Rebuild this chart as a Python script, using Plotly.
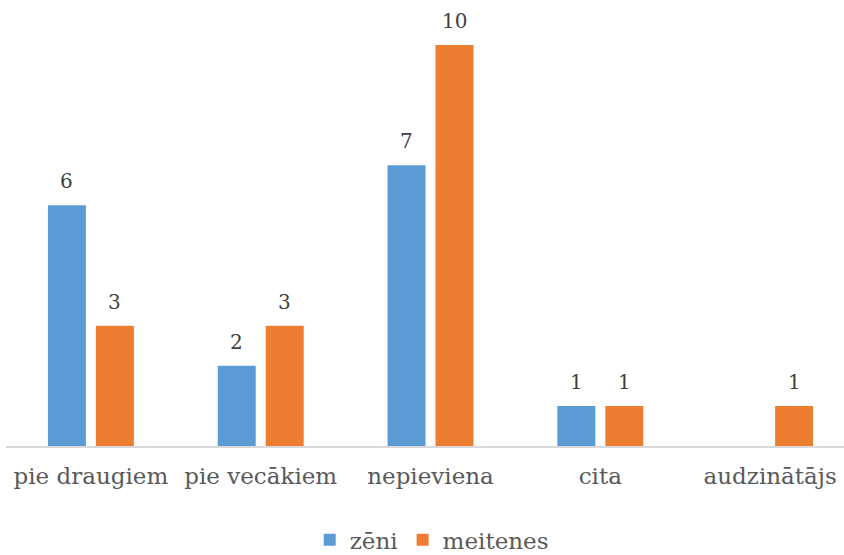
import plotly.graph_objects as go

categories = ["pie draugiem", "pie vecākiem", "nepieviena", "cita", "audzinātājs"]
zeni = [6, 2, 7, 1, None]
meitenes = [3, 3, 10, 1, 1]
series_names = ["zēni", "meitenes"]
colors = ["#5B9BD5", "#ED7D31"]

SERIF = "DejaVu Serif"

fig = go.Figure()
for name, vals, col in zip(series_names, [zeni, meitenes], colors):
    fig.add_trace(go.Bar(x=categories, y=vals, name=name, marker_color=col,
                         marker_line_width=0))

# data labels
for vals, shift in zip([zeni, meitenes], [-24, 24]):
    for c, v in zip(categories, vals):
        if v is None:
            continue
        fig.add_annotation(x=c, y=v, text=str(v), showarrow=False, xshift=shift,
                           yshift=10, yanchor="bottom",
                           font=dict(family=SERIF, size=20, color="#404040"))

fig.update_layout(
    width=844, height=555,
    margin=dict(l=6, r=0, t=0, b=109, autoexpand=False),
    paper_bgcolor="white", plot_bgcolor="white",
    barmode="group", bargap=0.435, bargroupgap=0.208,
    font=dict(family=SERIF, color="#595959", size=23),
    legend=dict(orientation="h", x=0.508, xanchor="center", y=-0.162, yanchor="top",
                font=dict(family=SERIF, size=23), itemwidth=30, traceorder="normal"),
    showlegend=True,
)
fig.update_xaxes(range=[-0.5, 4.435], showline=True, linecolor="#D9D9D9", linewidth=2,
                 ticks="", ticklabelstandoff=8,
                 tickfont=dict(family=SERIF, size=23, color="#595959"), showgrid=False)
fig.update_yaxes(range=[0, 11.12], visible=False, showgrid=False)

fig.write_html("out.html")
